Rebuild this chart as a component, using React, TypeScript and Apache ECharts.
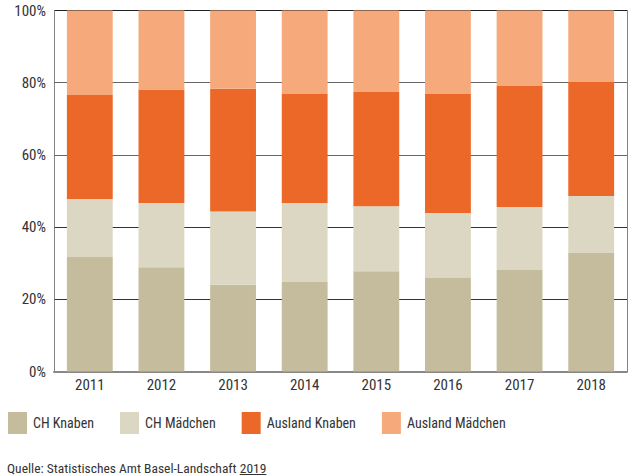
import React, { useEffect, useRef } from "react";
import * as echarts from "echarts";

const categories = ["2011", "2012", "2013", "2014", "2015", "2016", "2017", "2018"];
const chKnaben = [31.7, 28.9, 24.0, 24.8, 27.8, 25.9, 28.1, 32.8];
const chMaedchen = [16.1, 17.8, 20.3, 21.9, 18.0, 18.0, 17.5, 15.8];
const auslandKnaben = [28.8, 31.4, 34.0, 30.2, 31.6, 33.0, 33.5, 31.6];
const auslandMaedchen = [23.4, 21.9, 21.7, 23.1, 22.6, 23.1, 20.9, 19.8];
const seriesNames = ["CH Knaben", "CH Mädchen", "Ausland Knaben", "Ausland Mädchen"];
const colors = ["#c4bc9c", "#dcd7c3", "#ec6828", "#f6aa7c"];
const sourceText = "Quelle: Statistisches Amt Basel-Landschaft";
const sourceYear = "2019";

const FONT = '"Liberation Sans Narrow", "Roboto Condensed", "DejaVu Sans Condensed", Roboto, sans-serif';
const SRC_SIZE = 13.5;

function measure(text: string, size: number): number {
  const c = document.createElement("canvas").getContext("2d");
  if (!c) return text.length * size * 0.5;
  c.font = `${size}px ${FONT}`;
  return c.measureText(text).width;
}

export default function App() {
  const ref = useRef<HTMLDivElement>(null);
  useEffect(() => {
    if (!ref.current) return;
    const chart = echarts.init(ref.current, undefined, { renderer: "svg" });
    const data = [chKnaben, chMaedchen, auslandKnaben, auslandMaedchen];
    const srcLeft = 7;
    const yearLeft = srcLeft + measure(sourceText + " ", SRC_SIZE);
    const yearW = measure(sourceYear, SRC_SIZE);
    chart.setOption({
      animation: false,
      textStyle: { fontFamily: FONT },
      grid: { left: 54, right: 6, top: 10.5, bottom: 104.5, containLabel: false },
      legend: {
        left: 8,
        top: 412,
        padding: 0,
        itemWidth: 19,
        itemHeight: 22,
        itemGap: 26,
        icon: "rect",
        textStyle: { fontFamily: FONT, fontSize: 14, color: "#333", padding: [0, 0, 0, 1] },
        data: seriesNames,
      },
      xAxis: {
        type: "category",
        data: categories,
        axisLine: { show: true, lineStyle: { color: "#888", width: 2 } },
        axisTick: { show: false },
        axisLabel: { fontFamily: FONT, fontSize: 15, color: "#333", margin: 6 },
      },
      yAxis: [
        {
          type: "value",
          min: 0,
          max: 100,
          interval: 20,
          axisLine: { show: true, lineStyle: { color: "#777", type: "dotted", width: 1 } },
          axisTick: { show: false },
          axisLabel: { fontFamily: FONT, fontSize: 15, color: "#333", formatter: "{value}%", margin: 8 },
          splitLine: {
            show: true,
            lineStyle: { color: ["#888", "#333", "#333", "#666", "#666", "#222"], width: 1 },
          },
        },
        {
          type: "value",
          position: "right",
          min: 0,
          max: 100,
          interval: 20,
          axisLine: { show: true, lineStyle: { color: "#777", type: "dotted", width: 1 } },
          axisTick: { show: false },
          axisLabel: { show: false },
          splitLine: { show: false },
        },
      ],
      series: seriesNames.map((name, i) => ({
        name,
        type: "bar",
        stack: "total",
        data: data[i],
        barCategoryGap: "36%",
        itemStyle: { color: colors[i] },
        emphasis: { disabled: true },
      })),
      graphic: [
        {
          type: "text",
          left: srcLeft,
          top: 461,
          style: { text: sourceText, fontFamily: FONT, fontSize: SRC_SIZE, fill: "#333" },
        },
        {
          type: "text",
          left: yearLeft,
          top: 461,
          style: { text: sourceYear, fontFamily: FONT, fontSize: SRC_SIZE, fill: "#333" },
        },
        {
          type: "line",
          shape: { x1: yearLeft, y1: 474.5, x2: yearLeft + yearW, y2: 474.5 },
          style: { stroke: "#333", lineWidth: 1 },
        },
      ],
    });
    return () => chart.dispose();
  }, []);
  return <div ref={ref} style={{ width: 633, height: 476, position: "absolute", left: 0, top: 0 }} />;
}
